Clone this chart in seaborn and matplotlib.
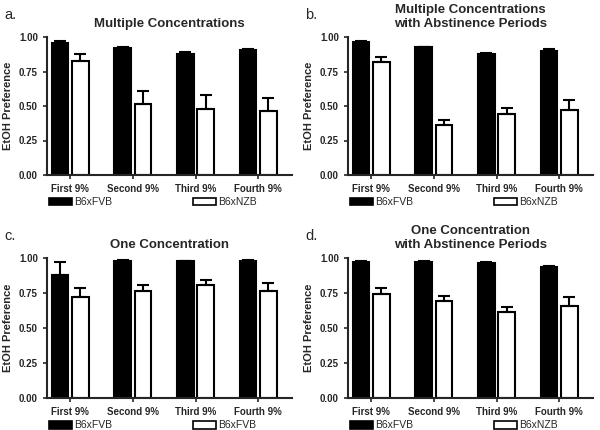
import numpy as np
import pandas as pd
import seaborn as sns
import matplotlib.pyplot as plt
from matplotlib.patches import Patch

sns.set_style("ticks")
plt.rcParams['font.family'] = ['Liberation Sans', 'DejaVu Sans']

groups = ['First 9%', 'Second 9%', 'Third 9%', 'Fourth 9%']
strains = ['B6xFVB', 'B6xNZB']

titles = ['Multiple Concentrations',
          'Multiple Concentrations\nwith Abstinence Periods',
          'One Concentration',
          'One Concentration\nwith Abstinence Periods']
letters = ['a.', 'b.', 'c.', 'd.']
legend_labels = [['B6xFVB', 'B6xNZB'], ['B6xFVB', 'B6xNZB'],
                 ['B6xFVB', 'B6xFVB'], ['B6xFVB', 'B6xNZB']]

# means and SEM per panel
fvb_a = [0.96, 0.92, 0.875, 0.905]
fvb_a_err = [0.01, 0.005, 0.015, 0.006]
nzb_a = [0.825, 0.515, 0.48, 0.465]
nzb_a_err = [0.055, 0.095, 0.10, 0.09]

fvb_b = [0.965, 0.925, 0.875, 0.90]
fvb_b_err = [0.004, 0.003, 0.012, 0.01]
nzb_b = [0.82, 0.36, 0.445, 0.47]
nzb_b_err = [0.035, 0.04, 0.04, 0.07]

fvb_c = [0.88, 0.98, 0.978, 0.978]
fvb_c_err = [0.09, 0.004, 0.003, 0.008]
nzb_c = [0.725, 0.765, 0.805, 0.765]
nzb_c_err = [0.06, 0.045, 0.04, 0.055]

fvb_d = [0.975, 0.975, 0.965, 0.935]
fvb_d_err = [0.003, 0.003, 0.004, 0.01]
nzb_d = [0.745, 0.695, 0.615, 0.66]
nzb_d_err = [0.04, 0.035, 0.035, 0.065]

panels = [(fvb_a, fvb_a_err, nzb_a, nzb_a_err),
          (fvb_b, fvb_b_err, nzb_b, nzb_b_err),
          (fvb_c, fvb_c_err, nzb_c, nzb_c_err),
          (fvb_d, fvb_d_err, nzb_d, nzb_d_err)]

fig = plt.figure(figsize=(6, 4.3), dpi=100)
positions = [(47, 37, 175), (348, 37, 175), (47, 258, 398), (348, 258, 398)]

for i, (fvb, fvb_err, nzb, nzb_err) in enumerate(panels):
    left, top, bot = positions[i]
    ax = fig.add_axes([left / 600, 1 - bot / 430, 245 / 600, (bot - top) / 430])
    df = pd.DataFrame({
        'group': groups * 2,
        'strain': [strains[0]] * 4 + [strains[1]] * 4,
        'pref': fvb + nzb,
    })
    sns.barplot(data=df, x='group', y='pref', hue='strain', order=groups,
                hue_order=strains, palette=['black', 'white'], width=0.65,
                gap=0.19, edgecolor='black', linewidth=1.5, errorbar=None,
                legend=False, ax=ax)
    for cont, err in zip(ax.containers, [fvb_err, nzb_err]):
        xs = [p.get_x() + p.get_width() / 2 for p in cont.patches]
        ys = [p.get_height() for p in cont.patches]
        ax.errorbar(xs, ys, yerr=[np.zeros(4), err], fmt='none',
                    ecolor='black', elinewidth=1.5, capsize=4.5, capthick=1.5)
    ax.set_ylim(0, 1.0)
    ax.set_xlim(-0.37, 3.54)
    ax.set_yticks([0, 0.25, 0.5, 0.75, 1.0])
    ax.set_yticklabels(['0.00', '0.25', '0.50', '0.75', '1.00'])
    ax.set_xlabel('')
    ax.set_ylabel('EtOH Preference', fontsize=8, fontweight='bold')
    ax.set_title(titles[i], fontsize=9.5, fontweight='bold', pad=7)
    ax.tick_params(axis='both', labelsize=7, width=1.2, length=3)
    for lab in ax.get_xticklabels() + ax.get_yticklabels():
        lab.set_fontweight('bold')
    sns.despine(ax=ax)
    for s in ['left', 'bottom']:
        ax.spines[s].set_linewidth(1.5)
    handles = [Patch(facecolor='black', edgecolor='black', linewidth=1.2),
               Patch(facecolor='white', edgecolor='black', linewidth=1.2)]
    ax.legend(handles, legend_labels[i], loc='upper left', ncol=2,
              bbox_to_anchor=(-0.01, -0.13), frameon=False, fontsize=7.5,
              handlelength=2.2, handleheight=0.8, handletextpad=0.2,
              columnspacing=7.8, borderaxespad=0)
    fig.text((left - 43) / 600, 1 - (top - 22) / 430, letters[i],
             fontsize=10.5, va='center', ha='left')

fig.savefig('out.png', dpi=100)
